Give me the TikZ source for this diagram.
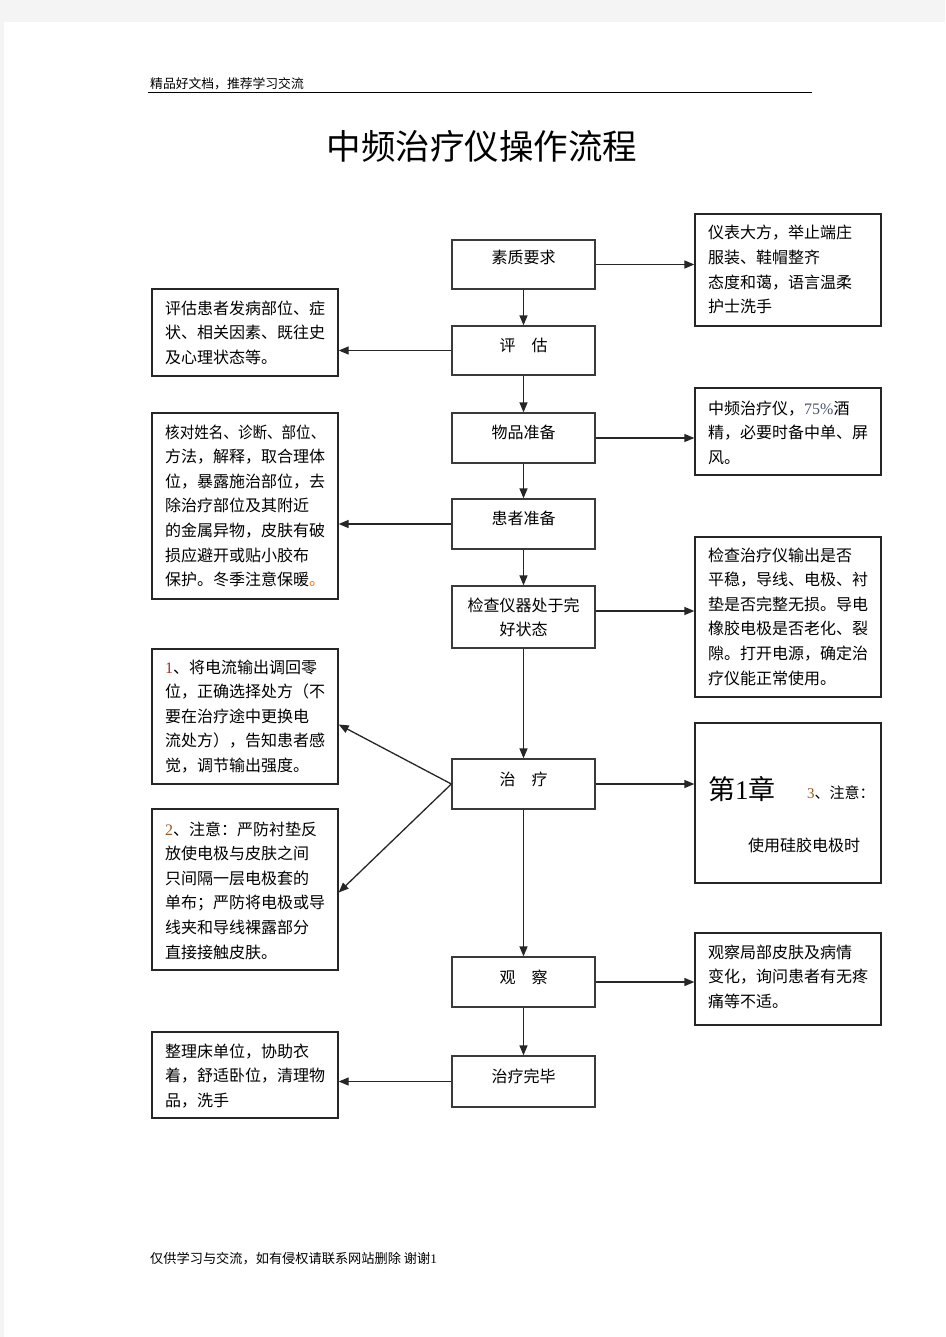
\documentclass[tikz,border=0pt]{standalone}
\usepackage{fontspec}
\usepackage{graphicx}
\setmainfont{Noto Sans CJK SC}
\newfontfamily\numfont{Liberation Serif}
\usetikzlibrary{arrows.meta}
\definecolor{pagegray}{HTML}{F4F4F4}
\definecolor{boxline}{HTML}{3A3A3A}
\definecolor{numred}{HTML}{A0301E}
\definecolor{numbrown}{HTML}{9A5A20}
\definecolor{pctblue}{HTML}{4A5470}
\definecolor{dotorange}{HTML}{E07020}
\begin{document}
\begin{tikzpicture}[x=1pt,y=-1pt,
  cbox/.style={draw=boxline, line width=1.3pt, minimum width=143pt, inner sep=0pt},
  sidebox/.style={draw=black!85, line width=1.3pt, minimum width=186pt, inner sep=0pt},
  txt/.style={font=\fontsize{16}{24.6}\selectfont, align=left, anchor=base west, inner sep=0pt},
  ctxt/.style={font=\fontsize{16}{24.6}\selectfont, align=center, anchor=base, inner sep=0pt},
  arr/.style={draw=black!85, line width=1.3pt, -{Triangle[length=10pt,width=8pt]}}]
\fill[pagegray] (0,0) rectangle (945,1337);
\fill[white] (4,22) rectangle (945,1337);
\useasboundingbox (0,0) rectangle (945,1337);

% header / footer / title
\node[anchor=base west, inner sep=0pt, font=\fontsize{12.8}{14}\selectfont] (hdr) at (150,89) {精品好文档，推荐学习交流};
\coordinate (hl1) at (148,92.5);
\coordinate (hl2) at (812,92.5);
\draw[line width=1pt] (hl1) -- (hl2);
\node[anchor=base, inner sep=0pt, font=\fontsize{34.5}{40}\selectfont] (title) at (482,160) {中频治疗仪操作流程};
\node[anchor=base west, inner sep=0pt, font=\fontsize{13.2}{15}\selectfont] (ftr) at (150,1263) {仅供学习与交流，如有侵权请联系网站删除\ 谢谢{\numfont 1}};

% central boxes
\node[cbox, minimum height=49pt] (n1) at (523.5,264.5) {};
\node[cbox, minimum height=49pt] (n2) at (523.5,350.5) {};
\node[cbox, minimum height=50pt] (n3) at (523.5,438) {};
\node[cbox, minimum height=50pt] (n4) at (523.5,524) {};
\node[cbox, minimum height=62pt] (n5) at (523.5,617) {};
\node[cbox, minimum height=50pt] (n6) at (523.5,784) {};
\node[cbox, minimum height=50pt] (n7) at (523.5,982) {};
\node[cbox, minimum height=51pt] (n8) at (523.5,1081.5) {};

\node[ctxt] (t1) at (523.5,264) {素质要求};
\node[ctxt] (t2) at (523.5,351) {评\hspace{16pt}估};
\node[ctxt] (t3) at (523.5,438) {物品准备};
\node[ctxt] (t4) at (523.5,524) {患者准备};
\node[ctxt] (t5) at (523.5,635.6) {检查仪器处于完\\好状态};
\node[ctxt] (t6) at (523.5,785) {治\hspace{16pt}疗};
\node[ctxt] (t7) at (523.5,983) {观\hspace{16pt}察};
\node[ctxt] (t8) at (523.5,1082) {治疗完毕};

% right boxes
\node[sidebox, minimum height=112pt] (r1) at (788,270) {};
\node[sidebox, minimum height=87pt] (r2) at (788,431.5) {};
\node[sidebox, minimum height=160pt] (r3) at (788,617) {};
\node[sidebox, minimum height=160pt] (r4) at (788,803) {};
\node[sidebox, minimum height=92pt] (r5) at (788,979) {};

\node[txt] (rt1) at (708,312.8) {仪表大方，举止端庄\\服装、鞋帽整齐\\态度和蔼，语言温柔\\护士洗手};
\node[txt] (rt2) at (708,463.2) {中频治疗仪，{\numfont\color{pctblue}75\%}酒\\精，必要时备中单、屏\\风。};
\node[txt] (rt3) at (708,684) {检查治疗仪输出是否\\平稳，导线、电极、衬\\垫是否完整无损。导电\\橡胶电极是否老化、裂\\隙。打开电源，确定治\\疗仪能正常使用。};
\node[anchor=base west, inner sep=0pt, font=\fontsize{27}{30}\selectfont] (rt4a) at (708,799) {第{\numfont 1}章};
\node[anchor=base west, inner sep=0pt, font=\fontsize{15}{18}\selectfont] (rt4b) at (807,798) {{\numfont\color{numbrown}3}、注意：};
\node[anchor=base west, inner sep=0pt, font=\fontsize{16}{18}\selectfont] (rt4c) at (748,851) {使用硅胶电极时};
\node[txt] (rt5) at (708,1007.2) {观察局部皮肤及病情\\变化，询问患者有无疼\\痛等不适。};

% left boxes
\node[sidebox, minimum height=87pt] (l1) at (245,332.5) {};
\node[sidebox, minimum height=186pt] (l2) at (245,506) {};
\node[sidebox, minimum height=135pt] (l3) at (245,716.5) {};
\node[sidebox, minimum height=161pt] (l4) at (245,889.5) {};
\node[sidebox, minimum height=86pt] (l5) at (245,1075) {};

\node[txt] (lt1) at (165,363.2) {评估患者发病部位、症\\状、相关因素、既往史\\及心理状态等。};
\node[txt] (lt2) at (165,585.6) {\scalebox{0.91}[1]{核对姓名、诊断、部位、}\\方法，解释，取合理体\\位，暴露施治部位，去\\除治疗部位及其附近\\的金属异物，皮肤有破\\损应避开或贴小胶布\\保护。冬季注意保暖{\color{dotorange}。}};
\node[txt] (lt3) at (165,771.4) {{\numfont\color{numred}1}、将电流输出调回零\\位，正确选择处方（不\\要在治疗途中更换电\\流处方），告知患者感\\觉，调节输出强度。};
\node[txt] (lt4) at (165,958) {{\numfont\color{numbrown}2}、注意：严防衬垫反\\放使电极与皮肤之间\\只间隔一层电极套的\\单布；严防将电极或导\\线夹和导线裸露部分\\直接接触皮肤。};
\node[txt] (lt5) at (165,1106.2) {整理床单位，协助衣\\着，舒适卧位，清理物\\品，洗手};

% vertical flow arrows
\draw[arr] (n1.south) -- (n2.north);
\draw[arr] (n2.south) -- (n3.north);
\draw[arr] (n3.south) -- (n4.north);
\draw[arr] (n4.south) -- (n5.north);
\draw[arr] (n5.south) -- (n6.north);
\draw[arr] (n6.south) -- (n7.north);
\draw[arr] (n7.south) -- (n8.north);

% side arrows
\draw[arr] (n1.east) -- (n1.east -| r1.west);
\draw[arr] (n2.west) -- (n2.west -| l1.east);
\draw[arr] (n3.east) -- (n3.east -| r2.west);
\draw[arr] (n4.west) -- (n4.west -| l2.east);
\draw[arr] ([yshift=6pt]n5.east) -- ([yshift=6pt]n5.east -| r3.west);
\draw[arr] (n6.east) -- (n6.east -| r4.west);
\draw[arr] (n6.west) -- ([yshift=-8pt]l3.east);
\draw[arr] (n6.west) -- ([yshift=-3pt]l4.east);
\draw[arr] (n7.east) -- (n7.east -| r5.west);
\draw[arr] (n8.west) -- (n8.west -| l5.east);
\end{tikzpicture}
\end{document}
